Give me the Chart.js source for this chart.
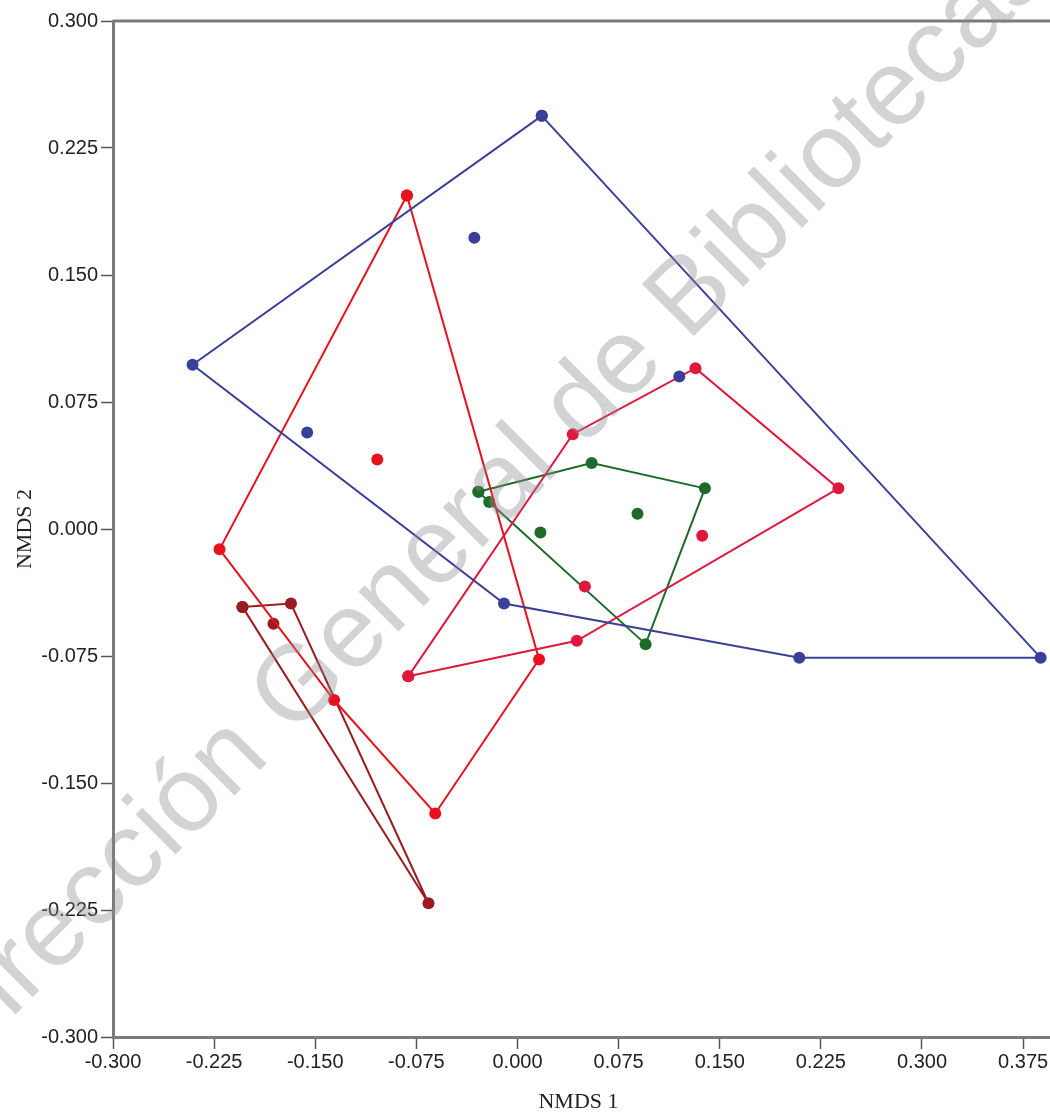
<!DOCTYPE html>
<html>
<head>
<meta charset="utf-8">
<script src="https://cdn.jsdelivr.net/npm/chart.js@4/dist/chart.umd.min.js"></script>
<style>
  html, body { margin: 0; padding: 0; background: #fff; }
  #wrap { position: relative; width: 1050px; height: 1113px; overflow: hidden; }
  #nmds { position: absolute; left: 0; top: 0; }
  #mark { position: absolute; left: 0; top: 0; pointer-events: none; }
</style>
</head>
<body>
<div id="wrap">
  <canvas id="nmds" width="1050" height="1113"></canvas>
  <svg id="mark" width="1050" height="1113">
    <text x="-44" y="1074" transform="rotate(-45 -44 1074)"
          font-family="'Liberation Sans', Arial, sans-serif" font-size="107"
          fill="#8c8c90" fill-opacity="0.38">Dirección General de Bibliotecas</text>
  </svg>
</div>
<script>
// tick values
const xTicks = [-0.3, -0.225, -0.15, -0.075, 0, 0.075, 0.15, 0.225, 0.3, 0.375];
const yTicks = [-0.3, -0.225, -0.15, -0.075, 0, 0.075, 0.15, 0.225, 0.3];

// group hulls (in drawing order) and points inside them, [NMDS1, NMDS2]
const blueHull = [[0.018, 0.244], [0.388, -0.076], [0.209, -0.076], [-0.010, -0.044], [-0.241, 0.097]];
const blueInner = [[-0.032, 0.172], [-0.156, 0.057], [0.120, 0.090]];

const redHull = [[-0.082, 0.197], [0.016, -0.077], [-0.061, -0.168], [-0.136, -0.101], [-0.221, -0.012]];
const redInner = [[-0.104, 0.041]];

const crimsonHull = [[-0.081, -0.087], [0.041, 0.056], [0.132, 0.095], [0.238, 0.024], [0.044, -0.066]];
const crimsonInner = [[0.137, -0.004], [0.050, -0.034]];

const greenHull = [[-0.029, 0.022], [0.055, 0.039], [0.139, 0.024], [0.095, -0.068], [-0.021, 0.016]];
const greenInner = [[0.017, -0.002], [0.089, 0.009]];

const darkRedHull = [[-0.204, -0.046], [-0.168, -0.044], [-0.066, -0.221]];
const darkRedInner = [[-0.181, -0.056]];

const groups = [
  { hull: blueHull, inner: blueInner, color: '#3a3f98' },
  { hull: redHull, inner: redInner, color: '#e8121e' },
  { hull: crimsonHull, inner: crimsonInner, color: '#e0183c' },
  { hull: greenHull, inner: greenInner, color: '#1f6a28' },
  { hull: darkRedHull, inner: darkRedInner, color: '#9a1c20' },
];

const toPts = arr => arr.map(([x, y]) => ({ x, y }));

const datasets = [];
groups.forEach(g => {
  datasets.push({
    data: toPts(g.hull.concat([g.hull[0]])),
    showLine: true,
    clip: false,
    borderColor: g.color,
    borderWidth: 2,
    backgroundColor: g.color,
    pointRadius: 6,
    pointBorderWidth: 0,
  });
  datasets.push({
    data: toPts(g.inner),
    showLine: false,
    clip: false,
    backgroundColor: g.color,
    pointRadius: 6,
    pointBorderWidth: 0,
  });
});

// top frame line, and the bottom axis carried on to the edge
const frameLines = {
  id: 'frameLines',
  afterDraw(chart) {
    const { ctx, chartArea: a } = chart;
    ctx.save();
    ctx.strokeStyle = '#7a7a7a';
    ctx.lineWidth = 3;
    ctx.beginPath();
    ctx.moveTo(a.left, a.top);
    ctx.lineTo(1050, a.top);
    ctx.moveTo(a.right - 1, a.bottom + 0.5);
    ctx.lineTo(1050, a.bottom + 0.5);
    ctx.stroke();
    ctx.restore();
  }
};

const tickFont = { family: "'Liberation Sans', Arial, sans-serif", size: 20 };
const titleFont = { family: "'Liberation Serif', 'Times New Roman', serif", size: 22, lineHeight: 1 };

new Chart(document.getElementById('nmds'), {
  type: 'scatter',
  data: { datasets },
  options: {
    responsive: false,
    animation: false,
    layout: { padding: { top: 21, right: 2, left: 0, bottom: 0 } },
    plugins: { legend: { display: false }, tooltip: { enabled: false } },
    scales: {
      x: {
        type: 'linear',
        min: -0.3, max: 0.3905,
        afterBuildTicks: s => { s.ticks = xTicks.map(v => ({ value: v })); },
        afterFit: s => { s.height = 76; s.paddingLeft = 0; s.paddingRight = 0; },
        ticks: {
          autoSkip: false, maxRotation: 0, padding: 1,
          color: '#222', font: tickFont,
          callback: v => v.toFixed(3),
        },
        grid: {
          drawOnChartArea: false, drawTicks: true,
          tickLength: 12, tickColor: '#555', tickWidth: 1.5,
        },
        border: { display: true, color: '#7a7a7a', width: 3 },
        title: { display: true, text: 'NMDS 1', color: '#222', font: titleFont, padding: 0 },
      },
      y: {
        type: 'linear',
        min: -0.3, max: 0.3,
        afterBuildTicks: s => { s.ticks = yTicks.map(v => ({ value: v })); },
        afterFit: s => { s.width = 113; s.paddingTop = 0; s.paddingBottom = 0; },
        ticks: {
          autoSkip: false, padding: 3,
          color: '#222', font: tickFont,
          callback: v => v.toFixed(3),
        },
        grid: {
          drawOnChartArea: false, drawTicks: true,
          tickLength: 12, tickColor: '#555', tickWidth: 1.5,
        },
        border: { display: true, color: '#7a7a7a', width: 3 },
        title: { display: true, text: 'NMDS 2', color: '#222', font: titleFont, padding: { top: 14, bottom: 0 } },
      },
    },
  },
  plugins: [frameLines],
});
</script>
</body>
</html>
